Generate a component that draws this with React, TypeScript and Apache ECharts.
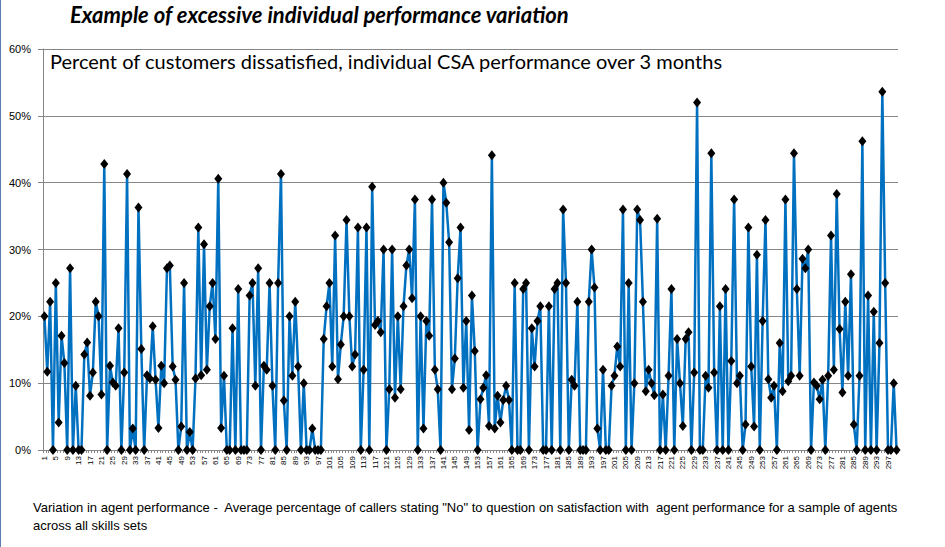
import React, { useEffect, useRef } from "react";
import * as echarts from "echarts";

const titleText = "Example of excessive individual performance variation";
const subtitleText = "Percent of customers dissatisfied, individual CSA performance over 3 months";
const captionLine1 = "Variation in agent performance -  Average percentage of callers stating \"No\" to question on satisfaction with  agent performance for a sample of agents";
const captionLine2 = "across all skills sets";

const yTicks = [0, 10, 20, 30, 40, 50, 60];

// percent dissatisfied per agent (agents 1..300)
const values1 = [
  20.0, 11.7, 22.2, 0, 25.0, 4.1, 17.1, 13.0, 0, 27.2,
  0, 9.6, 0, 0, 14.3, 16.1, 8.1, 11.6, 22.2, 20.0,
  8.3, 42.8, 0, 12.6, 10.1, 9.6, 18.2, 0, 11.6, 41.3,
  0, 3.2, 0, 36.3, 15.1, 0, 11.2, 10.7, 18.5, 10.5,
  3.3, 12.6, 10.0, 27.2, 27.6, 12.5, 10.5, 0, 3.5, 25.0,
  0, 2.7, 0, 10.7, 33.3, 11.2, 30.8, 12.0, 21.5, 25.0,
];
const values2 = [
  16.6, 40.6, 3.3, 11.1, 0, 0, 18.2, 0, 24.1, 0,
  0, 0, 23.1, 25.0, 9.6, 27.2, 0, 12.6, 12.0, 25.0,
  9.6, 0, 25.0, 41.3, 7.4, 0, 20.0, 11.1, 22.2, 12.5,
  0, 10.0, 0, 0, 3.2, 0, 0, 0, 16.6, 21.5,
  25.0, 12.5, 32.1, 10.6, 15.8, 20.0, 34.4, 20.0, 12.5, 14.3,
  33.3, 0, 12.0, 33.3, 0, 39.4, 18.7, 19.3, 17.6, 30.0,
];
const values3 = [
  0, 9.1, 30.0, 7.8, 20.0, 9.1, 21.5, 27.6, 30.0, 22.7,
  37.5, 0, 20.0, 3.2, 19.3, 17.1, 37.5, 12.0, 9.1, 0,
  40.0, 37.0, 31.1, 9.1, 13.7, 25.7, 33.3, 9.3, 19.3, 3.0,
  23.1, 14.8, 0, 7.6, 9.3, 11.2, 3.6, 44.1, 3.2, 8.1,
  4.1, 7.5, 9.6, 7.5, 0, 25.0, 0, 0, 24.1, 25.0,
  0, 18.2, 12.5, 19.3, 21.5, 0, 0, 21.5, 0, 24.1,
];
const values4 = [
  25.0, 0, 36.0, 25.0, 0, 10.5, 9.6, 22.2, 0, 0,
  0, 22.2, 30.0, 24.3, 3.2, 0, 12.0, 0, 0, 9.6,
  11.1, 15.5, 12.5, 36.0, 0, 25.0, 0, 10.0, 36.0, 34.4,
  22.2, 8.8, 12.0, 10.0, 8.2, 34.6, 0, 8.3, 0, 11.1,
  24.1, 0, 16.6, 10.0, 3.6, 16.6, 17.6, 0, 11.6, 52.0,
  0, 0, 11.1, 9.3, 44.4, 11.6, 0, 21.5, 0, 24.1,
];
const values5 = [
  0, 13.3, 37.5, 10.0, 11.1, 0, 3.8, 33.3, 12.5, 3.5,
  29.2, 0, 19.3, 34.4, 10.6, 7.8, 9.6, 0, 16.0, 8.8,
  37.5, 10.3, 11.1, 44.4, 24.1, 11.1, 28.6, 27.2, 30.0, 0,
  10.1, 9.6, 7.6, 10.5, 0, 11.1, 32.1, 12.0, 38.3, 18.1,
  8.6, 22.2, 11.1, 26.3, 3.8, 0, 11.1, 46.2, 0, 23.1,
  0, 20.7, 0, 16.0, 53.6, 25.0, 0, 0, 10.0, 0,
];

const values = [...values1, ...values2, ...values3, ...values4, ...values5];
const categories = values.map((_, i) => String(i + 1));

export default function App() {
  const ref = useRef<HTMLDivElement>(null);
  useEffect(() => {
    if (!ref.current) return;
    const chart = echarts.init(ref.current, null, { renderer: "svg" });
    chart.setOption({
      animation: false,
      backgroundColor: "#ffffff",
      grid: { left: 43, right: 47, top: 49, bottom: 97, containLabel: false },
      xAxis: {
        type: "category",
        data: categories,
        boundaryGap: true,
        axisLine: { show: true, lineStyle: { color: "#868686", width: 1 } },
        axisTick: { show: true, interval: 0, length: 3, alignWithLabel: false, lineStyle: { color: "#868686" } },
        axisLabel: {
          interval: 3,
          rotate: 90,
          fontSize: 8,
          color: "#000",
          fontFamily: "Liberation Sans",
          margin: 6,
        },
        splitLine: { show: false },
      },
      yAxis: {
        type: "value",
        min: 0,
        max: 60,
        interval: 10,
        axisLine: { show: true, lineStyle: { color: "#868686" } },
        axisTick: { show: true, length: 5, lineStyle: { color: "#868686" } },
        axisLabel: {
          formatter: (v: number) => (yTicks.includes(v) ? v + "%" : ""),
          fontSize: 11,
          color: "#000",
          fontFamily: "Liberation Sans",
          margin: 12,
        },
        splitLine: { show: true, lineStyle: { color: "#868686", width: 1 } },
      },
      series: [
        {
          type: "line",
          data: values,
          symbol: "diamond",
          symbolSize: [8, 10],
          showAllSymbol: true,
          lineStyle: { color: "#0070C0", width: 2.5 },
          itemStyle: { color: "#000000", borderWidth: 0 },
          z: 3,
        },
      ],
      graphic: [
        {
          type: "text",
          left: 70,
          top: 3,
          style: {
            text: titleText,
            font: "italic bold 22px Lato",
            fill: "#000",
          },
        },
        {
          type: "text",
          left: 50,
          top: 51,
          style: {
            text: subtitleText,
            font: "20px Lato",
            fill: "#000",
          },
        },
        {
          type: "text",
          left: 33,
          top: 501,
          style: {
            text: captionLine1,
            font: "13px 'Liberation Sans'",
            fill: "#000",
          },
        },
        {
          type: "text",
          left: 33,
          top: 519,
          style: {
            text: captionLine2,
            font: "13px 'Liberation Sans'",
            fill: "#000",
          },
        },
        {
          type: "line",
          shape: { x1: 0.5, y1: 0, x2: 0.5, y2: 547 },
          style: { stroke: "#5b7fb0", lineWidth: 1 },
        },
      ],
    });
    return () => chart.dispose();
  }, []);
  return (
    <div
      ref={ref}
      style={{ position: "fixed", left: 0, top: 0, width: 945, height: 547, background: "#fff" }}
    />
  );
}
